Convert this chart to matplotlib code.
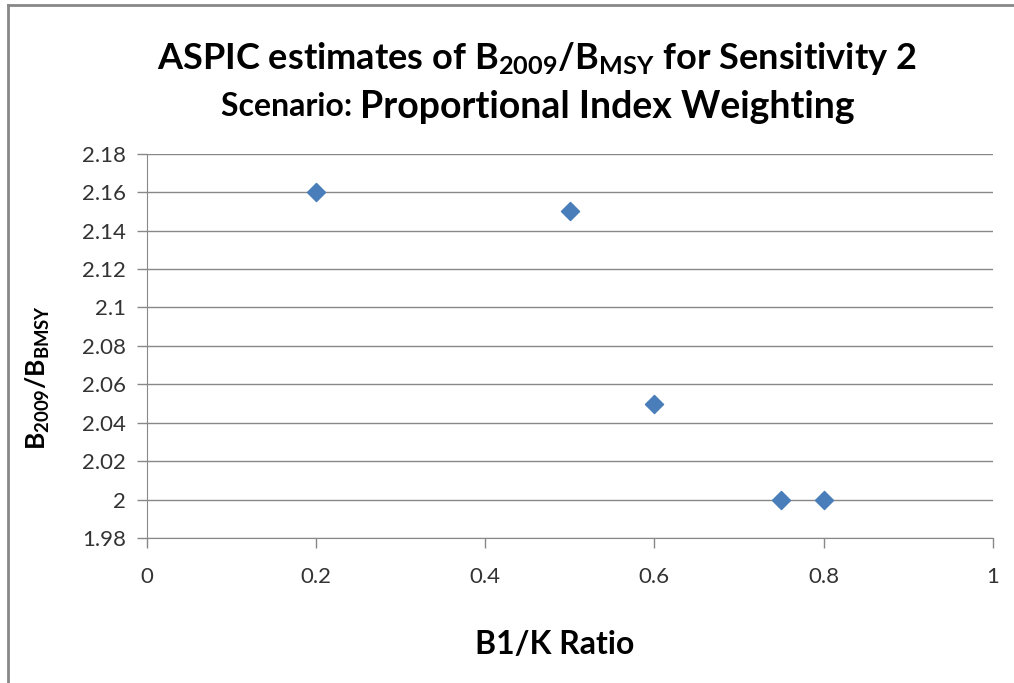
import numpy as np
import matplotlib.pyplot as plt
from matplotlib.lines import Line2D

# B1/K ratio vs B2009/BMSY estimates
b1k_ratio = [0.2, 0.5, 0.6, 0.75, 0.8]
b_ratio = [2.16, 2.15, 2.05, 2.00, 2.00]
xticks = [0, 0.2, 0.4, 0.6, 0.8, 1]
yticks = [1.98, 2.0, 2.02, 2.04, 2.06, 2.08, 2.1, 2.12, 2.14, 2.16, 2.18]
ytick_labels = ['1.98', '2', '2.02', '2.04', '2.06', '2.08', '2.1', '2.12', '2.14', '2.16', '2.18']

plt.rcParams['font.family'] = ['Lato', 'DejaVu Sans']
plt.rcParams['mathtext.fontset'] = 'custom'
plt.rcParams['mathtext.rm'] = 'Lato:bold'
plt.rcParams['mathtext.bf'] = 'Lato:bold'
plt.rcParams['mathtext.default'] = 'bf'

fig = plt.figure(figsize=(10.14, 6.83), dpi=100)
ax1 = fig.add_axes([0.145, 0.212, 0.834, 0.563])

ax1.scatter(b1k_ratio, b_ratio, marker='D', s=85, color='#4a7ebb', zorder=3)

ax1.set_xlim(0, 1)
ax1.set_ylim(1.98, 2.18)
ax1.set_xticks(xticks)
ax1.set_xticklabels([str(x) for x in xticks])
ax1.set_yticks(yticks)
ax1.set_yticklabels(ytick_labels)
ax1.yaxis.grid(True, color='#888888', linewidth=1)
ax1.set_axisbelow(True)
for s in ['top', 'right']:
    ax1.spines[s].set_visible(False)
for s in ['left', 'bottom']:
    ax1.spines[s].set_color('#888888')
ax1.tick_params(axis='both', colors='#888888', length=7, width=1, labelsize=16,
                labelcolor='#333333')
ax1.tick_params(axis='x', pad=14)
ax1.tick_params(axis='y', pad=8)

ax1.set_xlabel('B1/K Ratio', fontsize=23, fontweight='bold', labelpad=31, x=0.482)
ax1.set_ylabel(r'B$_{2009}$/B$_{BMSY}$', fontsize=19, fontweight='bold', labelpad=22, y=0.417)

fig.text(0.529, 0.915, r'ASPIC estimates of B$_{2009}$/B$_{MSY}$ for Sensitivity 2',
         ha='center', va='center', fontsize=26, fontweight='bold')
fig.text(0.355, 0.844, 'Scenario: ', ha='right', va='center', fontsize=23, fontweight='bold')
fig.text(0.355, 0.844, 'Proportional Index Weighting', ha='left', va='center',
         fontsize=27, fontweight='bold')

# outer frame (left and top edges visible)
fig.add_artist(Line2D([0.008, 0.008], [0, 0.993], transform=fig.transFigure,
                      color='#888888', linewidth=2))
fig.add_artist(Line2D([0.008, 1], [0.993, 0.993], transform=fig.transFigure,
                      color='#888888', linewidth=2))

fig.savefig('out.png', dpi=100)
